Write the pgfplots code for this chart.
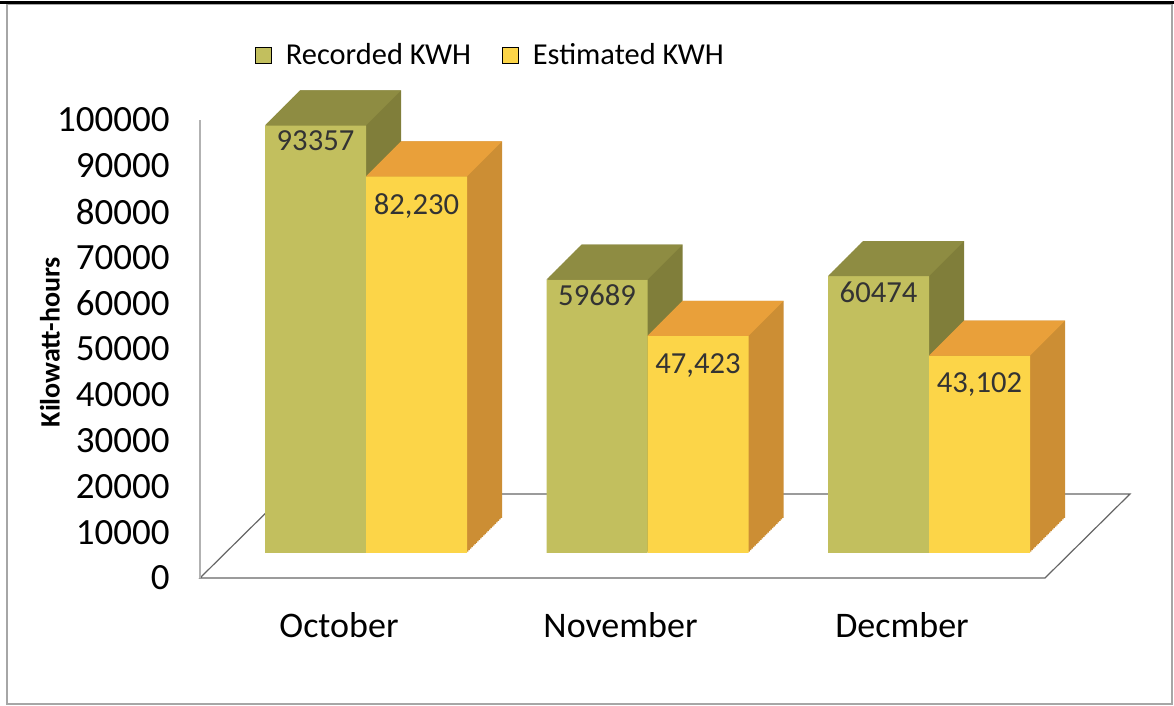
\documentclass[border=0pt]{standalone}
\usepackage{pgfplots}
\pgfplotsset{compat=1.18}
\usepackage{pgfplotstable}
\usepackage{fontspec}
\setmainfont{Carlito}
\definecolor{recfront}{RGB}{194,191,94}
\definecolor{rectop}{RGB}{142,140,66}
\definecolor{recside}{RGB}{128,126,58}
\definecolor{estfront}{RGB}{252,213,72}
\definecolor{esttop}{RGB}{233,160,58}
\definecolor{estside}{RGB}{204,142,52}
\newcommand{\topface}[1]{\tikz\fill[#1] (0pt,0pt)--(50.5pt,0pt)--(68pt,17.5pt)--(17.5pt,17.5pt)--cycle;}

\pgfplotstableread{
x rec est
0 93357 82230
1 59689 47423
2 60474 43102
}\kwh

\begin{document}
\begin{tikzpicture}
\useasboundingbox (-100pt,-64pt) rectangle (487pt,289pt);
\draw[gray!70, line width=0.8pt] (-96.5pt,-63pt) rectangle (486pt,287pt);
\draw[black, line width=1.5pt] (-100pt,287.5pt) -- (487pt,287.5pt);
\draw[gray!80!black, line width=0.6pt, fill=white] (0pt,0pt)--(422.5pt,0pt)--(465pt,42pt)--(42.5pt,42pt)--cycle;
\begin{axis}[
  at={(0pt,0pt)}, anchor=south west,
  scale only axis, width=422.5pt, height=229pt,
  xmin=-0.5897, xmax=2.412, ymin=-5459, ymax=94541,
  clip=false,
  axis x line*=bottom, axis y line*=left,
  x axis line style={draw=none},
  y axis line style={draw=gray!60, line width=0.6pt, -},
  scaled y ticks=false,
  ytick={-5459,4541,14541,24541,34541,44541,54541,64541,74541,84541,94541},
  yticklabels={0,10000,20000,30000,40000,50000,60000,70000,80000,90000,100000},
  xtick={0,1,2},
  xticklabels={October,November,Decmber},
  major tick length=0pt, tick style={draw=none},
  yticklabel style={anchor=east, inner sep=0pt, xshift=-15pt, font=\fontsize{18.5}{21}\selectfont},
  xticklabel style={anchor=base, inner sep=0pt, yshift=-30pt, xshift=-13.5pt, font=\fontsize{18}{21}\selectfont},
  ylabel={Kilowatt-hours},
  ylabel style={at={(axis description cs:-0.1775,0.515)}, anchor=center, font=\bfseries\fontsize{14}{16}\selectfont},
  /pgf/number format/assume math mode=true,
  legend image code/.code={\fill[#1] (0pt,-4pt) rectangle (8pt,4pt);},
  legend style={at={(axis description cs:0.345,1.142)}, anchor=center, draw=none, fill=none,
    font=\fontsize{15.2}{18}\selectfont,
    /tikz/every odd column/.append style={column sep=5pt},
    /tikz/every even column/.append style={column sep=13.5pt}},
  legend columns=2,
  legend cell align=left,
]
\addlegendimage{fill=recfront}
\addlegendentry{Recorded KWH}
\addlegendimage{fill=estfront}
\addlegendentry{Estimated KWH}

% Recorded KWH
\pgfplotsinvokeforeach{1,...,24}{
  \addplot[ybar, bar width=50.5pt, bar shift=-25.25pt, fill=recside, draw=none,
    xshift=#1*0.72917pt, yshift=#1*0.72917pt, forget plot] table[x=x,y=rec]{\kwh};
}
\addplot[ybar, bar width=50.5pt, bar shift=-25.25pt, fill=recfront, draw=none, forget plot,
  nodes near coords,
  every node near coord/.style={anchor=north, xshift=-25.25pt, yshift=-2.5pt, inner sep=0pt, font=\fontsize{15.3}{17}\selectfont, text=black!80},
  /pgf/number format/1000 sep={}] table[x=x,y=rec]{\kwh};
\addplot[ybar, bar width=50.5pt, bar shift=-25.25pt, draw=none, fill=none, forget plot,
  nodes near coords={\topface{rectop}},
  every node near coord/.style={anchor=south west, inner sep=0pt, outer sep=0pt, xshift=-50.5pt}] table[x=x,y=rec]{\kwh};

% Estimated KWH
\pgfplotsinvokeforeach{1,...,24}{
  \addplot[ybar, bar width=50.5pt, bar shift=25.25pt, fill=estside, draw=none,
    xshift=#1*0.72917pt, yshift=#1*0.72917pt, forget plot] table[x=x,y=est]{\kwh};
}
\addplot[ybar, bar width=50.5pt, bar shift=25.25pt, fill=estfront, draw=none, forget plot,
  nodes near coords,
  every node near coord/.style={anchor=north, xshift=25.25pt, yshift=-8.5pt, inner sep=0pt, font=\fontsize{15.3}{17}\selectfont, text=black!80},
  /pgf/number format/1000 sep={,}] table[x=x,y=est]{\kwh};
\addplot[ybar, bar width=50.5pt, bar shift=25.25pt, draw=none, fill=none, forget plot,
  nodes near coords={\topface{esttop}},
  every node near coord/.style={anchor=south west, inner sep=0pt, outer sep=0pt, xshift=0pt}] table[x=x,y=est]{\kwh};
\end{axis}
\end{tikzpicture}
\end{document}
